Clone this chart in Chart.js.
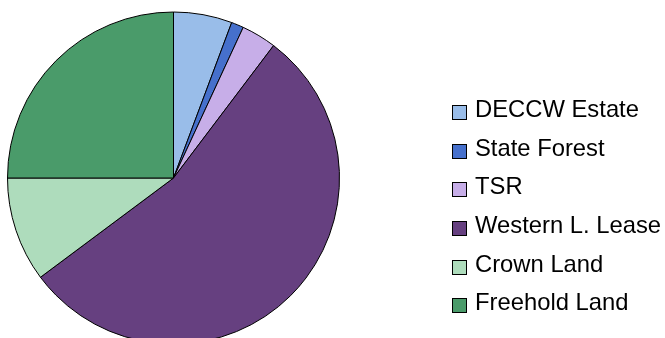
<!DOCTYPE html>
<html>
<head>
<meta charset="utf-8">
<script src="https://cdn.jsdelivr.net/npm/chart.js@4/dist/chart.umd.min.js"></script>
<style>
  html, body { margin: 0; padding: 0; background: #fff; overflow: hidden; }
  #wrap { position: relative; width: 665px; height: 338px; }
  #pie { position: absolute; left: 0; top: 0; }
  #legend {
    position: absolute; left: 452px; top: 90px; margin: 0; padding: 0; list-style: none;
    font-family: "Liberation Sans", Arial, sans-serif; font-size: 23.8px; color: #000;
  }
  #legend li { display: flex; align-items: center; height: 38.6px; white-space: nowrap; }
  #legend .sw { width: 13px; height: 13px; border: 1px solid #000; margin-right: 8px; margin-top: 7px; flex: none; }
</style>
</head>
<body>
<div id="wrap">
  <canvas id="pie" width="665" height="338"></canvas>
  <ul id="legend"></ul>
</div>
<script>
// Land tenure categories and their share of the total area (%)
const categories = ['DECCW Estate', 'State Forest', 'TSR', 'Western L. Lease', 'Crown Land', 'Freehold Land'];
const shares = [5.7, 1.2, 3.4, 54.5, 10.2, 25.0];
const sliceColors = ['#99BDE9', '#4670CC', '#C7AEE8', '#664080', '#AEDCBC', '#4A9B6A'];

const chart = new Chart(document.getElementById('pie').getContext('2d'), {
  type: 'pie',
  data: {
    labels: categories,
    datasets: [{
      data: shares,
      backgroundColor: sliceColors,
      borderColor: '#000',
      borderWidth: 1,
      radius: 166,
      clip: false
    }]
  },
  options: {
    responsive: false,
    animation: false,
    layout: { padding: { left: 0, right: 318, top: 18, bottom: 0 } },
    plugins: { legend: { display: false }, tooltip: { enabled: false } }
  }
});

// Legend list built from the chart's own label generator
const list = document.getElementById('legend');
chart.options.plugins.legend.labels.generateLabels(chart).forEach(item => {
  const li = document.createElement('li');
  const sw = document.createElement('span');
  sw.className = 'sw';
  sw.style.background = item.fillStyle;
  li.appendChild(sw);
  li.appendChild(document.createTextNode(item.text));
  list.appendChild(li);
});
</script>
</body>
</html>
